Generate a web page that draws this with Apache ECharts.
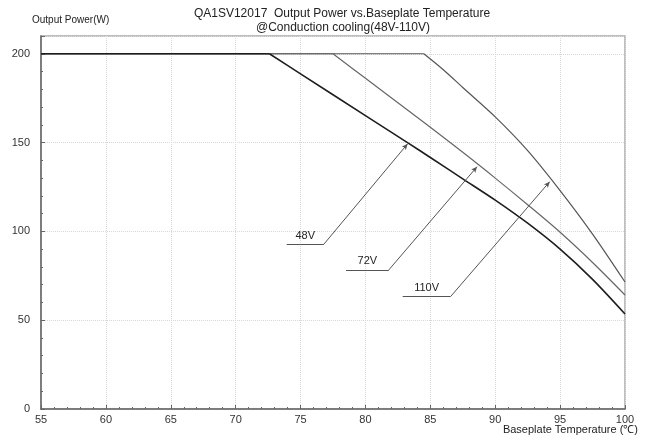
<!DOCTYPE html>
<html>
<head>
<meta charset="utf-8">
<script src="https://cdn.jsdelivr.net/npm/echarts@6/dist/echarts.min.js"></script>
<style>
html,body{margin:0;padding:0;background:#fff;}
#chart{width:648px;height:440px;}
</style>
</head>
<body>
<div id="chart"></div>
<script>
// ---- data ----
const titleLine1 = 'QA1SV12017  Output Power vs.Baseplate Temperature';
const titleLine2 = '@Conduction cooling(48V-110V)';
const yAxisTitle = 'Output Power(W)';
const xAxisTitle = 'Baseplate Temperature (℃)';

const curve48V = [[55,200],[72.6,200],[75,188.7],[80,165.2],[83.3,149.7],[85,141.6],[87.5,129.6],[90,117.6],[92.5,104.6],[95,90],[97.5,73],[100,53.5]];
const curve72V = [[55,200],[77.5,200],[80,186.2],[82.5,172.4],[85,158.6],[87.5,144.5],[90,130],[92.5,115],[95,99.5],[97.5,82.5],[100,64.2]];
const curve110V = [[55,200],[84.5,200],[86,191],[87.5,181],[90,164.5],[92.5,145.5],[95,123],[97.5,98.5],[100,71.5]];

const labelNames = ['48V','72V','110V'];
const labelLineStart = [[73.93,92.8],[78.5,78.3],[82.87,63.3]];
const labelLineEnd = [[76.8,92.8],[81.8,78.3],[86.56,63.3]];
const arrowTips = [[83.25,149.3],[88.6,136.4],[94.2,128]];

const xTicks = [55,60,65,70,75,80,85,90,95,100];
const yTicks = [0,50,100,150,200];

// ---- chart ----
const chart = echarts.init(document.getElementById('chart'), null, {renderer:'canvas'});
const FONT = 'Liberation Sans, Arial, sans-serif';

const annotData = [];
for (let i = 0; i < labelNames.length; i++) {
  annotData.push([
    {coord: labelLineStart[i], symbol:'none',
     label:{show:true, formatter: labelNames[i], position:'insideMiddleTop', distance:3,
            color:'#222', fontSize:11, fontFamily:FONT}},
    {coord: labelLineEnd[i], symbol:'none'}
  ]);
  annotData.push([
    {coord: labelLineEnd[i], symbol:'none', label:{show:false}},
    {coord: arrowTips[i], symbol:'arrow', symbolSize:[4,6]}
  ]);
}

function curveSeries(name, pts, color, width, extra) {
  const flat = pts.slice(0, 2);
  const bend = pts.slice(1);
  const s1 = {type:'line', name:name, data:flat, symbol:'none', silent:true,
              lineStyle:{color:color, width:width}};
  const s2 = Object.assign({type:'line', name:name, data:bend, symbol:'none', silent:true,
              smooth:0.3,
              lineStyle:{color:color, width:width}}, extra || {});
  return [s1, s2];
}

const series = [].concat(
  curveSeries('110V', curve110V, '#555', 1.2),
  curveSeries('72V', curve72V, '#666', 1.2),
  curveSeries('48V', curve48V, '#1e1e1e', 1.6, {
    markLine:{silent:true, animation:false, symbol:['none','none'],
      lineStyle:{color:'#555', width:1, type:'solid'},
      emphasis:{disabled:true},
      data:annotData}
  })
);

const option = {
  animation:false,
  backgroundColor:'#fff',
  title:[
    {text: titleLine1, left:337, top:3, textAlign:'center',
     textStyle:{fontSize:12, fontWeight:'normal', color:'#222', fontFamily:FONT}},
    {text: titleLine2, left:338, top:17, textAlign:'center',
     textStyle:{fontSize:12, fontWeight:'normal', color:'#222', fontFamily:FONT}}
  ],
  graphic:[
    {type:'text', left:32, top:15, style:{text:yAxisTitle, fill:'#222', font:'10px '+FONT}},
    {type:'text', right:10, top:424, style:{text:xAxisTitle, fill:'#222', font:'11px '+FONT}}
  ],
  grid:{left:41, right:23, top:36, bottom:31, show:true, borderColor:'#aaa', borderWidth:1.5},
  xAxis:{
    type:'value', min:xTicks[0], max:xTicks[xTicks.length-1], interval:5,
    axisLine:{show:true, onZero:false, lineStyle:{color:'#666', width:1.5}},
    axisTick:{show:true, inside:true, length:4, lineStyle:{color:'#666'}},
    minorTick:{show:true, splitNumber:5, length:2, lineStyle:{color:'#666'}},
    splitLine:{show:true, lineStyle:{color:'#d8d8d8', type:'dotted', width:1}},
    axisLabel:{color:'#333', fontSize:11, fontFamily:FONT, margin:5,
      formatter:(v)=> xTicks.indexOf(v) >= 0 ? String(v) : ''}
  },
  yAxis:{
    type:'value', min:0, max:210, interval:50,
    axisLine:{show:true, lineStyle:{color:'#666', width:1.5}},
    axisTick:{show:true, inside:true, length:4, lineStyle:{color:'#666'}},
    minorTick:{show:true, splitNumber:5, length:2, lineStyle:{color:'#666'}},
    splitLine:{show:true, lineStyle:{color:'#d8d8d8', type:'dotted', width:1}},
    axisLabel:{color:'#333', fontSize:11, fontFamily:FONT, margin:11,
      formatter:(v)=> yTicks.indexOf(v) >= 0 ? String(v) : ''}
  },
  series: series
};
chart.setOption(option);
</script>
</body>
</html>
